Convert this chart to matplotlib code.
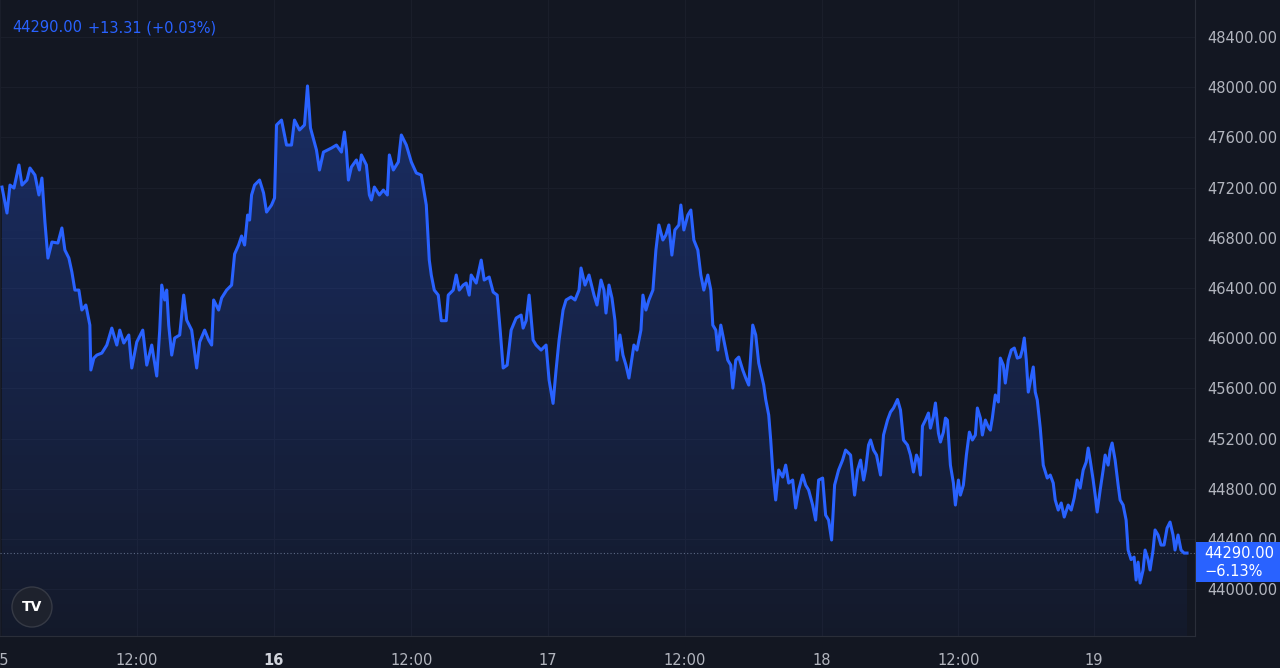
import matplotlib
matplotlib.use("Agg")
import matplotlib.pyplot as plt
import numpy as np
from matplotlib.patches import Polygon, Ellipse, Rectangle

# bar index (one bar ~ 5.26 minutes) and price, in four segments
bars_a = [0,5,8,12,17,20,25,28,33,37,40,43,46,50,56,60,63,67,70,73,77,80,84,88,89,92,95,100,105,110,115,118,122,127,130,135,141,145,150,155,158,160,163,165,167,170,173,178,182,185,190,195,198,203,207,210,212,217,220,225,230,233,237,240,243,246,248,250,253,258,262,265,270,273,275,280,285,290,293,298,303,306,309]
price_a = [47204,46997,47220,47196,47380,47220,47260,47356,47300,47141,47276,46925,46638,46766,46758,46878,46702,46638,46527,46383,46383,46224,46264,46104,45746,45841,45865,45881,45945,46080,45945,46064,45961,46025,45762,45969,46064,45785,45945,45698,46064,46423,46304,46383,46104,45865,46001,46025,46343,46144,46064,45762,45969,46064,45985,45945,46304,46224,46320,46383,46423,46670,46742,46814,46742,46981,46941,47141,47220,47260,47157,47005,47061,47117,47699,47738,47539,47539,47738,47659,47699,48010,47675]

bars_b = [315,318,322,330,335,340,343,345,347,350,355,358,360,365,368,370,373,378,382,386,388,392,397,400,405,410,415,420,425,428,430,433,437,440,445,447,452,455,458,462,465,468,470,475,480,483,488,492,496,499,502,506,510,515,520,522,525,528,532,535,540,545,548,552,555,558,562,565,570,574,578,580,584,588,590,593,596]
price_b = [47499,47340,47483,47515,47539,47483,47643,47499,47260,47364,47420,47340,47460,47380,47141,47101,47204,47141,47180,47141,47460,47340,47404,47619,47539,47404,47316,47300,47061,46622,46503,46383,46343,46139,46139,46343,46383,46503,46383,46423,46439,46343,46503,46439,46622,46463,46487,46367,46343,46064,45762,45785,46064,46160,46184,46080,46139,46343,45985,45945,45905,45945,45666,45480,45746,45985,46224,46304,46328,46304,46383,46559,46423,46503,46439,46343,46264]

bars_c = [600,603,605,608,611,614,616,619,622,625,628,630,633,636,640,642,645,648,652,655,658,662,665,668,671,674,678,680,683,687,690,693,697,700,703,707,710,712,715,717,720,724,727,730,732,735,738,742,745,748,752,755,758,760,763,765,768,770,772,775,778,782,785,788,792,795,798,802,805,808,812,815,818,822,825,828,831,834,838,842,845,850,854,857,860,863,865,868,870,873,876,880,883,887,890,893,897,900]
price_c = [46463,46383,46200,46423,46320,46139,45825,46025,45865,45785,45682,45785,45945,45905,46064,46343,46224,46304,46383,46702,46902,46782,46822,46902,46662,46862,46902,47061,46862,46981,47021,46782,46702,46503,46383,46503,46383,46104,46064,45905,46104,45945,45825,45785,45602,45825,45849,45746,45682,45626,46104,46025,45801,45730,45626,45511,45387,45188,44949,44710,44949,44893,44988,44845,44869,44646,44789,44909,44829,44789,44670,44550,44869,44885,44590,44550,44391,44829,44949,45028,45108,45068,44749,44949,45028,44869,44949,45148,45188,45108,45068,44909,45228,45347,45411,45443,45511,45427]

bars_d = [903,907,910,913,916,918,920,922,925,928,930,933,935,938,940,943,945,947,950,953,955,958,960,963,966,969,972,975,977,980,982,985,988,990,992,995,998,1000,1003,1005,1008,1011,1014,1017,1020,1022,1024,1026,1028,1031,1033,1035,1037,1040,1043,1047,1050,1053,1055,1058,1061,1064,1068,1071,1074,1077,1080,1083,1086,1088,1090,1093,1095,1097,1100,1103,1105,1108,1110,1112,1115,1118,1120,1123,1126,1128,1131,1134,1136,1138,1140,1143,1145,1148,1150,1153,1155,1158,1161,1164,1167,1170,1173,1175,1178,1181,1184,1187]
price_d = [45188,45148,45068,44933,45068,45028,44909,45299,45347,45403,45283,45379,45483,45243,45172,45251,45363,45347,44988,44845,44670,44869,44749,44829,45068,45251,45188,45228,45443,45363,45228,45347,45291,45267,45363,45547,45491,45841,45785,45642,45825,45905,45921,45841,45849,45905,46001,45825,45570,45690,45770,45570,45507,45283,44988,44885,44909,44845,44710,44630,44686,44574,44670,44630,44726,44869,44805,44949,45012,45124,45028,44869,44749,44614,44789,44949,45068,44988,45108,45164,45028,44829,44710,44670,44550,44311,44235,44255,44072,44215,44048,44152,44311,44235,44152,44311,44471,44431,44351,44351,44486,44534,44431,44311,44431,44311,44287,44287]

bars = bars_a + bars_b + bars_c + bars_d
price = price_a + price_b + price_c + price_d

day_ticks = [-2,135,272,410,547,684,821,958,1094]
day_labels = ["15","12:00","16","12:00","17","12:00","18","12:00","19"]
y_ticks = [44000,44400,44800,45200,45600,46000,46400,46800,47200,47600,48000,48400]
last_price = 44290.00
change_text = "+13.31 (+0.03%)"
pct_text = "\u22126.13%"

BG = "#131722"
BLUE = "#2962ff"
W, H = 1280, 668
fig = plt.figure(figsize=(12.8, 6.68), dpi=100, facecolor=BG)
ax = fig.add_axes([0, 32/H, 1195/W, 636/H])
ax.set_facecolor(BG)
ymin, ymax = 43626, 48695
ax.set_xlim(-2, 1195)
ax.set_ylim(ymin, ymax)

# gradient fill
grad = np.linspace(0, 1, 256).reshape(-1, 1)
cmap = matplotlib.colors.LinearSegmentedColormap.from_list(
    "g", [(0.161, 0.384, 1.0, 0.04), (0.161, 0.384, 1.0, 0.30)])
im = ax.imshow(grad, extent=[-2, 1195, ymin, max(price)], origin="lower",
               aspect="auto", cmap=cmap, zorder=1)
poly = Polygon(list(zip(bars, price)) + [(bars[-1], ymin), (bars[0], ymin)],
               closed=True, transform=ax.transData, facecolor="none", edgecolor="none")
ax.add_patch(poly)
im.set_clip_path(poly)
ax.plot(bars, price, color=BLUE, lw=2.2, zorder=3, solid_joinstyle="round")

# grid
for t in y_ticks:
    ax.axhline(t, color="#1a1e2a", lw=0.8, zorder=0)
for t in day_ticks:
    ax.axvline(t, color="#1a1e2a", lw=0.8, zorder=0)
ax.axhline(last_price, color="#5d6a85", lw=0.8, ls=(0, (1, 2)), zorder=2)

for s in ["top", "left"]:
    ax.spines[s].set_visible(False)
ax.spines["right"].set_color("#2a2e39")
ax.spines["bottom"].set_color("#2a2e39")

ax.yaxis.tick_right()
ax.set_yticks(y_ticks)
ax.set_yticklabels([f"{v:.2f}" for v in y_ticks])
ax.tick_params(axis="y", length=0, pad=9, labelsize=10.5, labelcolor="#b2b5be")
ax.set_xticks(day_ticks)
ax.set_xticklabels(day_labels)
ax.tick_params(axis="x", length=0, pad=12, labelsize=10.5, labelcolor="#b2b5be")
for lbl, txt in zip(ax.get_xticklabels(), day_labels):
    if txt == "16":
        lbl.set_fontweight("bold")
        lbl.set_color("#d1d4dc")

# last price label box (figure pixel placement)
box = Rectangle((1196/W, 1 - 582/H), 84/W, 40/H, transform=fig.transFigure,
                fc=BLUE, ec="none", zorder=20)
fig.patches.append(box)
fig.text(1204/W, 1 - 553/H, f"{last_price:.2f}", color="white", fontsize=10.5,
         va="center", ha="left", zorder=21)
fig.text(1204/W, 1 - 571/H, pct_text, color="white", fontsize=10.5,
         va="center", ha="left", zorder=21)

fig.text(12/W, 1 - 28/H, f"{last_price:.2f}", color=BLUE, fontsize=10.5, va="center")
fig.text(88/W, 1 - 28/H, change_text, color=BLUE, fontsize=10.5, va="center")

# logo
c = Ellipse((32/W, 1 - 607/H), 40/W, 40/H, transform=fig.transFigure, fc="#1e222d",
            ec="#363a45", lw=1, zorder=10)
fig.patches.append(c)
fig.text(32/W, 1 - 607/H, "TV", color="white", fontsize=10, fontweight="bold",
         ha="center", va="center", zorder=11)

fig.savefig("out.png", dpi=100, facecolor=BG)
